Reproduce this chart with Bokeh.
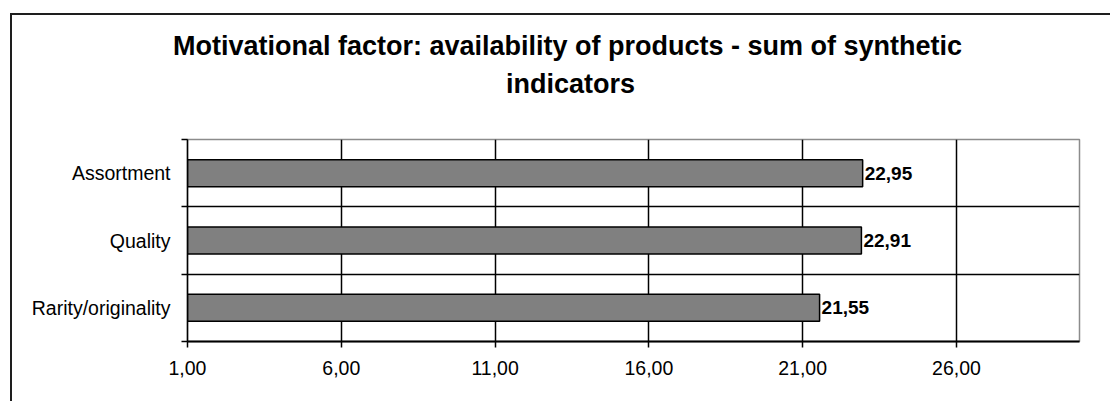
from bokeh.plotting import figure
from bokeh.models import Range1d, FixedTicker, Title, ColumnDataSource, InlineStyleSheet
from bokeh.core.properties import value
from bokeh.embed import file_html
from bokeh.resources import INLINE

# Chart data
title_lines = ["Motivational factor: availability of products - sum of synthetic",
               "indicators"]
categories = ["Rarity/originality", "Quality", "Assortment"]   # bottom to top
scores = [21.55, 22.91, 22.95]
score_labels = ["21,55", "22,91", "22,95"]
x_ticks = [1, 6, 11, 16, 21, 26]
x_tick_labels = ["1,00", "6,00", "11,00", "16,00", "21,00", "26,00"]
x_min, x_max = 1, 30

FONT = "Liberation Sans"
W, H = 1110, 401

positions = [i + 0.5 for i in range(len(categories))]
src = ColumnDataSource(dict(y=positions, score=scores, label=score_labels))

p = figure(width=W, height=H, output_backend="svg", toolbar_location=None,
           x_range=Range1d(x_min, x_max), y_range=Range1d(0, len(categories)),
           min_border_left=187, min_border_right=31, min_border_top=139,
           min_border_bottom=60)
p.background_fill_color = "white"
p.border_fill_color = "white"
p.outline_line_color = "#8c8c8c"
p.outline_line_width = 1.5

# bars
p.hbar(y="y", right="score", left=x_min, height=0.4, source=src,
       fill_color="#808080", line_color="black", line_width=1.5)

# value labels
p.text(x="score", y="y", text="label", source=src, x_offset=2,
       text_baseline="middle", text_align="left",
       text_font=value(FONT), text_font_style="bold", text_font_size="19px",
       text_color="black")

# x axis
p.xaxis.ticker = FixedTicker(ticks=x_ticks)
p.xaxis.major_label_overrides = {t: lab for t, lab in zip(x_ticks, x_tick_labels)}
p.xaxis.major_tick_out = 6
p.xaxis.major_tick_in = 0
p.xaxis.minor_tick_line_color = None
p.xaxis.axis_line_color = "black"
p.xaxis.axis_line_width = 2
p.xaxis.major_tick_line_color = "black"
p.xaxis.major_tick_line_width = 1.5
p.xaxis.major_label_standoff = 13
p.xaxis.major_label_text_font = FONT
p.xaxis.major_label_text_font_size = "19.5px"
p.xaxis.major_label_text_color = "black"

# y axis: labels at category centres, tick marks at category boundaries
p.yaxis.ticker = FixedTicker(ticks=positions,
                             minor_ticks=list(range(len(categories) + 1)))
p.yaxis.major_label_overrides = {pos: c for pos, c in zip(positions, categories)}
p.yaxis.major_tick_out = 0
p.yaxis.major_tick_in = 0
p.yaxis.minor_tick_out = 6
p.yaxis.minor_tick_in = 0
p.yaxis.minor_tick_line_color = "black"
p.yaxis.minor_tick_line_width = 1.5
p.yaxis.axis_line_color = "black"
p.yaxis.axis_line_width = 1.5
p.yaxis.major_label_standoff = 11
p.yaxis.major_label_text_font = FONT
p.yaxis.major_label_text_font_size = "19.5px"
p.yaxis.major_label_text_color = "black"

# grid
p.xgrid.grid_line_color = "black"
p.xgrid.grid_line_width = 1.5
p.ygrid.ticker = FixedTicker(ticks=list(range(1, len(categories))))
p.ygrid.grid_line_color = "black"
p.ygrid.grid_line_width = 1.5

# two-line title, left aligned and shifted so both lines share one centre
def style_title(t):
    t.align = "left"
    t.text_font = FONT
    t.text_font_style = "bold"
    t.text_font_size = "27px"
    t.text_color = "black"

# blank spacer panel directly above the plot area
spacer = Title(text=" ", standoff=2.5)
style_title(spacer)
p.add_layout(spacer, "above")

second_line = Title(text=title_lines[1], offset=318.5, standoff=12)
style_title(second_line)
p.add_layout(second_line, "above")

p.title.text = title_lines[0]
style_title(p.title)
p.title.offset = -14.5
p.title.standoff = 0

# chart area frame (left and top edges fall inside the page)
p.stylesheets = [InlineStyleSheet(css="""
:host { overflow: hidden; }
:host::after {
  content: ""; position: absolute; left: 9.5px; top: 13px;
  width: 3000px; height: 3000px; pointer-events: none;
  border-left: 2px solid #1e1e1e; border-top: 2px solid #1e1e1e;
}
""")]

open("out.html", "w").write(file_html(p, INLINE))
